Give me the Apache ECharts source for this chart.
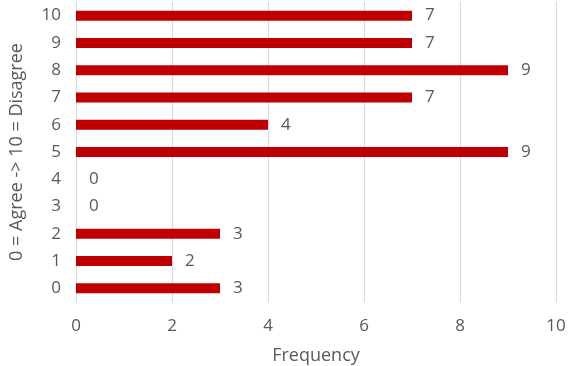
<!DOCTYPE html>
<html><head><meta charset="utf-8">
<script src="https://cdn.jsdelivr.net/npm/echarts@6/dist/echarts.min.js"></script>
<style>html,body{margin:0;padding:0;background:#fff}#c{width:568px;height:366px}</style>
</head><body><div id="c"></div>
<script>
const categories = ['0','1','2','3','4','5','6','7','8','9','10'];
const frequency = [3,2,3,0,0,9,4,7,9,7,7];
const xTicks = [0,2,4,6,8,10];
const font = 'Open Sans';
const chart = echarts.init(document.getElementById('c'));
chart.setOption({
  animation:false,
  grid:{left:76,right:12,top:2,bottom:64,containLabel:false,outerBoundsMode:'none'},
  xAxis:{type:'value',min:xTicks[0],max:xTicks[xTicks.length-1],interval:2,
    name:'Frequency',nameLocation:'middle',nameGap:45,
    nameTextStyle:{color:'#595959',fontSize:18,fontFamily:font},
    axisLine:{show:false},axisTick:{show:false},
    axisLabel:{color:'#595959',fontSize:17,fontFamily:font,margin:16},
    splitLine:{lineStyle:{color:'#d9d9d9',width:1}}},
  yAxis:{type:'category',data:categories,
    name:'0 = Agree -> 10 = Disagree',nameLocation:'middle',nameGap:50,nameRotate:90,
    nameTextStyle:{color:'#595959',fontSize:18,fontFamily:font},
    axisLine:{show:true,lineStyle:{color:'#d9d9d9'}},axisTick:{show:false},
    axisLabel:{color:'#595959',fontSize:17,fontFamily:font,margin:15}},
  series:[{type:'bar',data:frequency,barWidth:10,
    itemStyle:{color:'#C00000'},
    label:{show:true,position:'right',distance:13,color:'#595959',fontSize:17,fontFamily:font}}]
});
</script></body></html>
